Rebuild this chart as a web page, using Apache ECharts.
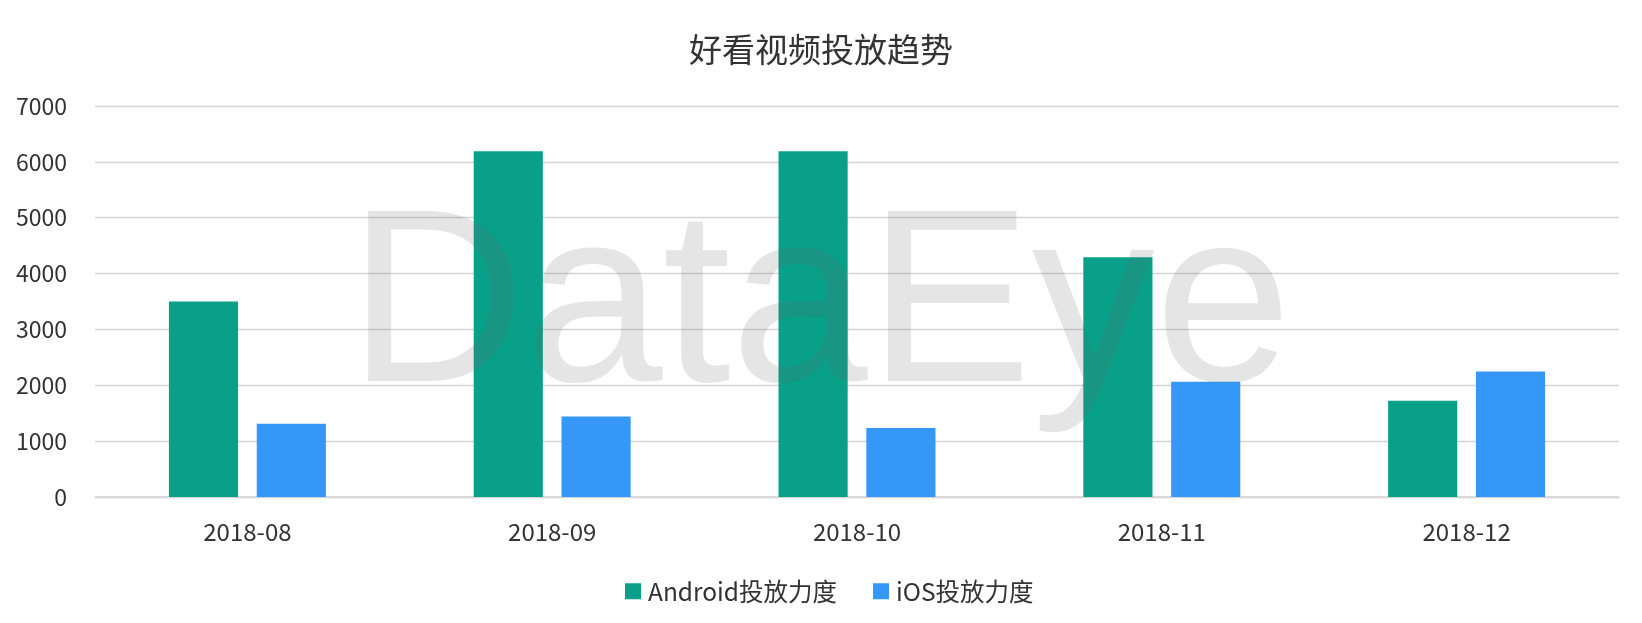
<!DOCTYPE html>
<html>
<head>
<meta charset="utf-8">
<script src="https://cdn.jsdelivr.net/npm/echarts@6/dist/echarts.min.js"></script>
<style>
html,body{margin:0;padding:0;background:#fff;}
#chart{width:1642px;height:623px;}
</style>
</head>
<body>
<div id="chart"></div>
<script>
var categories = ['2018-08', '2018-09', '2018-10', '2018-11', '2018-12'];
var androidValues = [3500, 6190, 6190, 4290, 1725];
var iosValues = [1310, 1440, 1235, 2065, 2245];
var seriesNames = ['Android投放力度', 'iOS投放力度'];
var titleText = '好看视频投放趋势';
var watermarkText = 'DataEye';

var FONT = '"Noto Sans CJK SC", "Noto Sans", sans-serif';
var chart = echarts.init(document.getElementById('chart'));
chart.setOption({
  backgroundColor: '#ffffff',
  animation: false,
  title: {
    text: titleText,
    left: 'center',
    top: 28,
    textStyle: { fontFamily: FONT, fontSize: 33, fontWeight: 'normal', color: '#333333' }
  },
  legend: {
    data: seriesNames,
    left: 620,
    top: 574,
    itemWidth: 16,
    itemHeight: 16,
    itemGap: 36,
    icon: 'rect',
    textStyle: { fontFamily: FONT, fontSize: 24.5, color: '#333333', padding: [0, 0, 0, 2] }
  },
  grid: { left: 95, right: 23, top: 106, bottom: 126, containLabel: false },
  xAxis: {
    type: 'category',
    data: categories,
    axisLine: { show: true, lineStyle: { color: '#d4d4d4', width: 1.5 } },
    axisTick: { show: false },
    axisLabel: { fontFamily: FONT, fontSize: 24, color: '#333333', margin: 23 }
  },
  yAxis: {
    type: 'value',
    min: 0,
    max: 7000,
    interval: 1000,
    axisLine: { show: false },
    axisTick: { show: false },
    axisLabel: { fontFamily: FONT, fontSize: 23, color: '#333333', margin: 28, formatter: function (v) { return String(v); } },
    splitLine: { lineStyle: { color: '#d4d4d4', width: 1.3 } }
  },
  series: [
    {
      name: seriesNames[0],
      type: 'bar',
      data: androidValues,
      barGap: '27%',
      barCategoryGap: '48.5%',
      itemStyle: { color: '#09a08a' }
    },
    {
      name: seriesNames[1],
      type: 'bar',
      data: iosValues,
      barGap: '27%',
      barCategoryGap: '48.5%',
      itemStyle: { color: '#3597f7' }
    }
  ],
  graphic: [
    {
      type: 'text',
      left: 348,
      top: 190,
      z: 100,
      silent: true,
      style: {
        text: watermarkText,
        font: 'normal 246px "Liberation Sans", Arial, sans-serif',
        fill: 'rgba(100,100,100,0.17)'
      }
    }
  ]
});
</script>
</body>
</html>
